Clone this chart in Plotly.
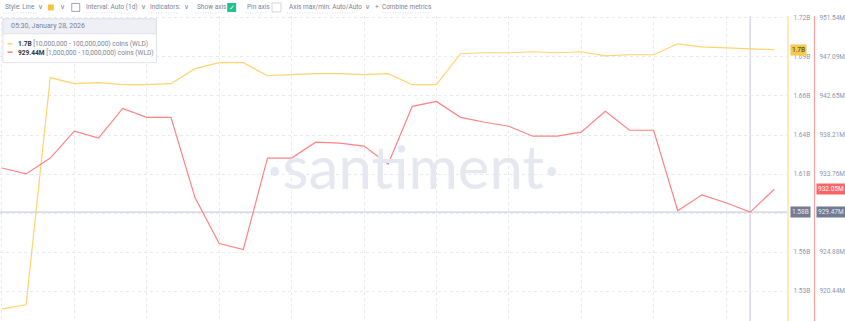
import plotly.graph_objects as go
import pandas as pd

# ---------------- data ----------------
dates = pd.date_range("2025-12-28", periods=33, freq="D")

whales_10m_100m_B = [1.5163, 1.5191, 1.6762, 1.6720, 1.6727, 1.6713, 1.6713, 1.6720,
                     1.6824, 1.6865, 1.6865, 1.6775, 1.6782, 1.6789, 1.6789, 1.6782,
                     1.6789, 1.6713, 1.6713, 1.6927, 1.6934, 1.6934, 1.6941, 1.6934,
                     1.6941, 1.6913, 1.6920, 1.6920, 1.6996, 1.6975, 1.6968, 1.6961,
                     1.6955]
whales_1m_10m_M = [934.46, 933.79, 935.59, 938.65, 937.86, 941.25, 940.23, 940.23,
                   931.07, 925.87, 925.19, 935.59, 935.59, 937.40, 937.29, 936.95,
                   934.92, 941.48, 942.04, 940.23, 939.67, 939.21, 938.08, 938.08,
                   938.54, 940.91, 938.76, 938.76, 929.60, 931.41, 930.51, 929.44,
                   932.05]

y1_tickvals = [1.7175, 1.6905, 1.6635, 1.6365, 1.6095, 1.5825, 1.5555, 1.5285]
y1_ticktext = ["1.72B", "1.69B", "1.66B", "1.64B", "1.61B", "", "1.56B", "1.53B"]
y2_tickvals = [951.54, 947.097, 942.654, 938.211, 933.768, 929.325, 924.882, 920.44]
y2_ticktext = ["951.54M", "947.09M", "942.65M", "938.21M", "933.76M", "", "924.88M", "920.44M"]

y1_range = [1.5079, 1.71887]
y2_range = [917.05, 951.77]

hover_idx = 31
hover_label_time = "05:30, January 28, 2026"
legend_vals = ["1.7B", "929.44M"]
legend_names = ["[10,000,000 - 100,000,000) coins (WLD)", "[1,000,000 - 10,000,000) coins (WLD)"]
cross_labels = ["1.58B", "929.47M"]
last_labels = ["1.7B", "932.05M"]

toolbar_labels = ["Style: Line  ∨", "∨", "Interval: Auto (1d)  ∨", "Indicators:  ∨",
                  "Show axis", "Pin axis", "Axis max/min: Auto/Auto  ∨", "+  Combine metrics"]

YEL = "#ffd36e"
RED = "#ff8282"
GREY = "#8f95aa"

# ---------------- geometry helpers ----------------
W, H = 845, 321
PW = 790          # plot area right edge (px)
TOP = 14          # plot area top (px)


def px(x):
    return x / W


def py(y):
    return (H - y) / H


fig = go.Figure()
fig.add_trace(go.Scatter(x=dates, y=whales_10m_100m_B, mode="lines",
                         line=dict(color=YEL, width=1.2), yaxis="y", hoverinfo="skip"))
fig.add_trace(go.Scatter(x=dates, y=whales_1m_10m_M, mode="lines",
                         line=dict(color=RED, width=1.2), yaxis="y2", hoverinfo="skip"))

day = pd.Timedelta(days=1)
x0 = dates[0] - day * 0.0826
x1 = dates[0] + day * 32.535

shapes = []
annotations = []

# crosshair
shapes.append(dict(type="line", xref="x", yref="paper", x0=dates[hover_idx], x1=dates[hover_idx],
                   y0=0, y1=py(TOP), line=dict(color="#cdd0de", width=1.2), layer="below"))
shapes.append(dict(type="line", xref="paper", yref="y2", x0=0, x1=px(792),
                   y0=whales_1m_10m_M[hover_idx], y1=whales_1m_10m_M[hover_idx],
                   line=dict(color="#cdd0de", width=1.2), layer="below"))

# legend box
shapes.append(dict(type="rect", xref="paper", yref="paper", x0=px(3), x1=px(157), y0=py(61), y1=py(17),
                   fillcolor="white", line=dict(color="#dfe2ea", width=1)))
shapes.append(dict(type="rect", xref="paper", yref="paper", x0=px(3), x1=px(157), y0=py(32), y1=py(17),
                   fillcolor="#eef0f6", line=dict(color="#dfe2ea", width=1)))
annotations.append(dict(xref="paper", yref="paper", x=px(9), y=py(24.5), text=hover_label_time,
                        showarrow=False, xanchor="left", yanchor="middle",
                        font=dict(size=7, color="#7d8294", family="Roboto")))
for i, (col, v, nm) in enumerate(zip([YEL, RED], legend_vals, legend_names)):
    yy = 42 + 8.5 * i
    shapes.append(dict(type="line", xref="paper", yref="paper", x0=px(7.5), x1=px(12.5), y0=py(yy), y1=py(yy),
                       line=dict(color=col, width=1.6)))
    annotations.append(dict(xref="paper", yref="paper", x=px(16), y=py(yy), showarrow=False,
                            xanchor="left", yanchor="middle",
                            text=f"<b><span style='color:#2f3442'>{v}</span></b> {nm}",
                            font=dict(size=6.6, color="#7d8294", family="Roboto")))

# watermark
annotations.append(dict(xref="paper", yref="paper", x=px(415), y=py(165), text="·santiment·",
                        showarrow=False, xanchor="center", yanchor="middle",
                        font=dict(size=60, color="#e6e8f1", family="Lato")))

# toolbar
tb_font = dict(size=6.5, color="#7d8294", family="Roboto")
toolbar_x = [3, 58, 84, 149, 196, 246, 288, 374]
underline_spans = [(3, 37), (84, 131), (149, 179), (196, 224), (246, 268), (288, 355), (384, 431)]
for x, t in zip(toolbar_x, toolbar_labels):
    annotations.append(dict(xref="paper", yref="paper", x=px(x), y=py(5.5), text=t, showarrow=False,
                            xanchor="left", yanchor="middle", font=tb_font))
for a, b in underline_spans:
    shapes.append(dict(type="line", xref="paper", yref="paper", x0=px(a), x1=px(b), y0=py(11), y1=py(11),
                       line=dict(color="#d3d6e0", width=0.8, dash="1px,1.5px")))
shapes.append(dict(type="rect", xref="paper", yref="paper", x0=px(48), x1=px(54), y0=py(8.5), y1=py(2.5),
                   fillcolor="#f9c23c", line=dict(width=0)))
shapes.append(dict(type="rect", xref="paper", yref="paper", x0=px(72), x1=px(80), y0=py(9.5), y1=py(1.5),
                   fillcolor="white", line=dict(color="#8a90a6", width=0.8)))
shapes.append(dict(type="rect", xref="paper", yref="paper", x0=px(228), x1=px(237), y0=py(10), y1=py(1),
                   fillcolor="#22c08a", line=dict(width=0)))
annotations.append(dict(xref="paper", yref="paper", x=px(232.5), y=py(5.5), text="✓", showarrow=False,
                        xanchor="center", yanchor="middle", font=dict(size=7, color="white")))
shapes.append(dict(type="rect", xref="paper", yref="paper", x0=px(273), x1=px(282), y0=py(10), y1=py(1),
                   fillcolor="white", line=dict(color="#c9ccd8", width=0.8)))

# axis value boxes
box_font = dict(size=6.5, family="Roboto")
annotations.append(dict(xref="paper", yref="y", x=px(793), y=whales_10m_100m_B[-1], text=last_labels[0],
                        showarrow=False, xanchor="left", yanchor="middle", bgcolor="#f8c84a",
                        borderpad=1, font=dict(box_font, color="#3a3320")))
annotations.append(dict(xref="paper", yref="y2", x=px(819), y=whales_1m_10m_M[-1], text=last_labels[1],
                        showarrow=False, xanchor="left", yanchor="middle", bgcolor="#ff6464",
                        borderpad=1, font=dict(box_font, color="white")))
annotations.append(dict(xref="paper", yref="y2", x=px(793), y=whales_1m_10m_M[hover_idx], text=cross_labels[0],
                        showarrow=False, xanchor="left", yanchor="middle", bgcolor="#737b94",
                        borderpad=1, font=dict(box_font, color="#e6e8f2")))
annotations.append(dict(xref="paper", yref="y2", x=px(819), y=whales_1m_10m_M[hover_idx], text=cross_labels[1],
                        showarrow=False, xanchor="left", yanchor="middle", bgcolor="#737b94",
                        borderpad=1, font=dict(box_font, color="#e6e8f2")))

grid = dict(showgrid=True, gridcolor="#e9eaf1", gridwidth=1, griddash="3px,3px")

fig.update_layout(
    width=W, height=H,
    margin=dict(l=0, r=0, t=0, b=0, pad=0),
    paper_bgcolor="white", plot_bgcolor="white",
    showlegend=False,
    xaxis=dict(type="date", domain=[0, PW / W], range=[x0, x1], tick0=dates[0], dtick=3 * 86400000,
               showticklabels=False, zeroline=False, showline=False, ticks="", **grid),
    yaxis=dict(side="right", domain=[0, py(TOP)], range=y1_range, tickvals=y1_tickvals, ticktext=y1_ticktext,
               showline=True, linecolor="#fcebbd", linewidth=2, ticks="", ticklabelstandoff=3,
               tickfont=dict(size=6.5, color=GREY, family="Roboto"), zeroline=False, **grid),
    yaxis2=dict(side="right", overlaying="y", anchor="free", position=817 / W, range=y2_range,
                tickvals=y2_tickvals, ticktext=y2_ticktext, showgrid=False,
                showline=True, linecolor="#ff9a9a", linewidth=1, ticks="", ticklabelstandoff=3,
                tickfont=dict(size=6.5, color=GREY, family="Roboto"), zeroline=False),
    shapes=shapes, annotations=annotations,
)

fig.write_html("out.html")
